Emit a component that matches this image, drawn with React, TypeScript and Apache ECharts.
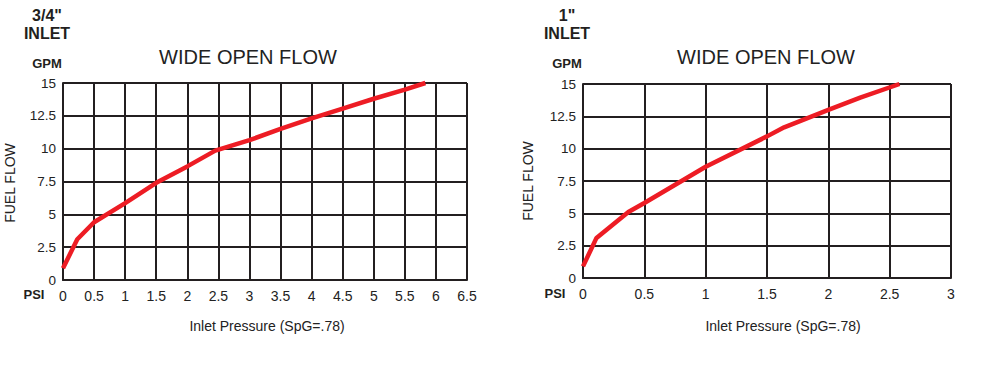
import React, { useEffect, useRef } from 'react';
import * as echarts from 'echarts';

// Tick labels / axis ranges
const yMax = 15;
const yInterval = 2.5;
const xInterval = 0.5;
const leftXMax = 6.5;
const rightXMax = 3;

// 3/4" inlet curve (PSI -> GPM)
const leftPsi = [0, 0.23, 0.5, 1.0, 1.5, 2.0, 2.45, 3.0, 3.5, 4.0, 4.5, 5.0, 5.5, 5.83];
const leftGpm = [0.9, 3.1, 4.4, 5.85, 7.4, 8.65, 9.85, 10.65, 11.5, 12.3, 13.05, 13.8, 14.5, 15];

// 1" inlet curve (PSI -> GPM)
const rightPsi = [0, 0.11, 0.37, 0.5, 1.0, 1.5, 1.64, 2.0, 2.26, 2.58];
const rightGpm = [0.9, 3.1, 5.1, 5.8, 8.6, 10.95, 11.65, 13.0, 13.94, 15];

const titles = ['WIDE OPEN FLOW', 'WIDE OPEN FLOW'];
const inletSizes = ['3/4"', '1"'];

export default function App() {
  const ref = useRef<HTMLDivElement>(null);
  useEffect(() => {
    if (!ref.current) return;
    const chart = echarts.init(ref.current, null, { renderer: 'svg' });
    const font = '"Liberation Sans", Arial, Helvetica, sans-serif';
    const gridColor = '#231f20';
    const labelColor = '#222';
    const red = '#ed1c24';

    const mkX = (idx: number, max: number) => ({
      type: 'value',
      gridIndex: idx,
      min: 0,
      max,
      interval: xInterval,
      axisLine: { show: true, onZero: false, lineStyle: { color: gridColor, width: 2 } },
      axisTick: { show: false },
      splitLine: { show: true, lineStyle: { color: gridColor, width: 2 } },
      axisLabel: { color: labelColor, fontSize: 14, margin: 9, fontFamily: font },
    });
    const mkY = (idx: number) => ({
      type: 'value',
      gridIndex: idx,
      min: 0,
      max: yMax,
      interval: yInterval,
      axisLine: { show: true, onZero: false, lineStyle: { color: gridColor, width: 2 } },
      axisTick: { show: false },
      splitLine: { show: true, lineStyle: { color: gridColor, width: 2 } },
      axisLabel: { color: labelColor, fontSize: 13.5, margin: 7, fontFamily: font },
    });

    const txt = (text: string, x: number, y: number, size: number, bold = false, extra: any = {}) => ({
      type: 'text',
      x,
      y,
      ...extra,
      style: {
        text,
        fill: bold ? '#231f20' : '#222',
        fontSize: size,
        fontWeight: bold ? 'bold' : 'normal',
        fontFamily: font,
        textAlign: 'center',
        textVerticalAlign: 'middle',
      },
    });

    chart.setOption({
      animation: false,
      backgroundColor: '#fff',
      grid: [
        { left: 63, top: 83, width: 404, height: 197 },
        { left: 583, top: 84, width: 368, height: 194 },
      ],
      xAxis: [mkX(0, leftXMax), mkX(1, rightXMax)],
      yAxis: [mkY(0), mkY(1)],
      series: [
        {
          type: 'line',
          xAxisIndex: 0,
          yAxisIndex: 0,
          data: leftPsi.map((p, i) => [p, leftGpm[i]]),
          showSymbol: false,
          lineStyle: { color: red, width: 4.5 },
          clip: false,
        },
        {
          type: 'line',
          xAxisIndex: 1,
          yAxisIndex: 1,
          data: rightPsi.map((p, i) => [p, rightGpm[i]]),
          showSymbol: false,
          lineStyle: { color: red, width: 4.5 },
          clip: false,
        },
      ],
      graphic: [
        txt(inletSizes[0], 47, 15, 16, true),
        txt('INLET', 47, 33, 16, true),
        txt('GPM', 47, 63, 13, true),
        txt(titles[0], 248, 57, 20),
        txt('PSI', 34, 294, 13, true),
        txt('FUEL FLOW', 10, 183, 14, false, { rotation: Math.PI / 2 }),
        txt('Inlet Pressure (SpG=.78)', 267, 326, 14),
        txt(inletSizes[1], 567, 15, 16, true),
        txt('INLET', 567, 33, 16, true),
        txt('GPM', 567, 63, 13, true),
        txt(titles[1], 766, 57, 20),
        txt('PSI', 555, 293, 13, true),
        txt('FUEL FLOW', 528, 181, 14, false, { rotation: Math.PI / 2 }),
        txt('Inlet Pressure (SpG=.78)', 783, 326, 14),
      ],
    });
    return () => chart.dispose();
  }, []);
  return (
    <div
      ref={ref}
      style={{ position: 'absolute', left: 0, top: 0, width: 1000, height: 369, background: '#fff' }}
    />
  );
}
